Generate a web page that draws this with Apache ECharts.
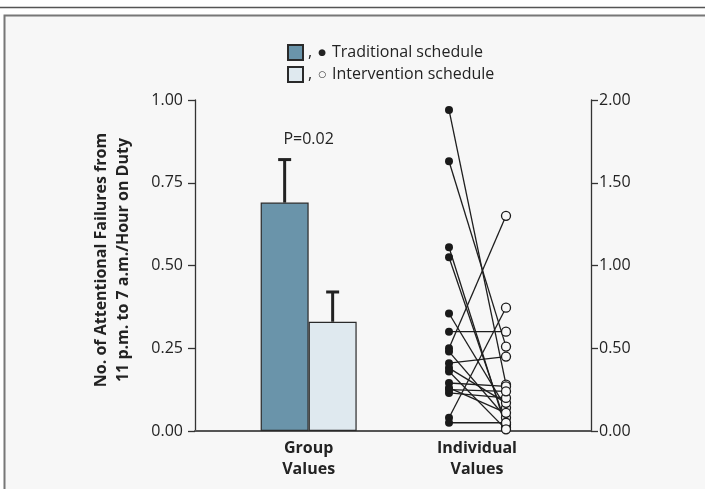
<!DOCTYPE html>
<html><head><meta charset="utf-8">
<script src="https://cdn.jsdelivr.net/npm/echarts@6/dist/echarts.min.js"></script>
<style>html,body{margin:0;padding:0;background:#fff}#c{width:705px;height:489px}</style>
</head><body><div id="c"></div>
<script>
// ---- data ----
const groupLabels = ['Group\nValues', 'Individual\nValues'];
const seriesNames = ['Traditional schedule', 'Intervention schedule'];
const groupMeans = [0.69, 0.33];
const groupUpper = [0.82, 0.42];
const pText = 'P=0.02';
const leftTicks = [0, 0.25, 0.5, 0.75, 1.0];
const rightTicks = [0, 0.5, 1.0, 1.5, 2.0];
const indCats = ['Traditional', 'Intervention'];
const traditional  = [1.94, 1.63, 1.11, 1.05, 0.71, 0.60, 0.50, 0.48, 0.41, 0.38, 0.29, 0.26, 0.23, 0.08, 0.05, 0.36, 0.25];
const intervention = [0.28, 0.51, 0.02, 0.04, 0.14, 0.60, 1.30, 0.08, 0.45, 0.17, 0.27, 0.11, 0.20, 0.745, 0.05, 0.01, 0.24];

// ---- layout / style ----
const GROUP_POS = 28.7, IND_POS = 71.2, BAR_W = 48;
const FONT = '"Open Sans", "DejaVu Sans", sans-serif';
const TXT = '#232323';

const chart = echarts.init(document.getElementById('c'), null, {renderer: 'canvas'});

const lineSeries = traditional.map((t, i) => ({
  type: 'line', xAxisIndex: 1, yAxisIndex: 2,
  data: [[indCats[0], t], [indCats[1], intervention[i]]],
  showSymbol: false, symbol: 'none',
  lineStyle: {color: '#1e1e1e', width: 1.3},
  silent: true, z: 3
}));

const option = {
  animation: false,
  backgroundColor: 'transparent',
  textStyle: {fontFamily: FONT},
  graphic: [
    {type: 'rect', z: -10, shape: {x: 4.5, y: 15.5, width: 800, height: 600},
     style: {fill: '#f7f7f7', stroke: '#777', lineWidth: 2}},
    {type: 'line', z: -10, shape: {x1: 0, y1: 7.5, x2: 705, y2: 7.5},
     style: {stroke: '#555', lineWidth: 1.6}}
  ],
  legend: {
    data: seriesNames, orient: 'vertical', left: 287, top: 44, padding: 0,
    itemWidth: 15, itemHeight: 15, itemGap: 5, icon: 'rect', selectedMode: false,
    formatter: name => '{p|,}{d|' + (name === seriesNames[0] ? '●' : '○') + '}{t|' + name + '}',
    textStyle: {
      fontFamily: FONT, fontSize: 16, color: TXT, lineHeight: 17,
      rich: {
        p: {fontFamily: FONT, fontSize: 16, color: TXT, lineHeight: 17},
        d: {fontFamily: '"DejaVu Sans"', fontSize: 9, color: TXT, padding: [0, 6, 0, 6], lineHeight: 17},
        t: {fontFamily: FONT, fontSize: 16, color: TXT, lineHeight: 17}
      }
    }
  },
  grid: [
    {left: 195, right: 114, top: 100, bottom: 58},
    {left: 449, right: 199, top: 100, bottom: 58}
  ],
  xAxis: [
    {gridIndex: 0, type: 'value', min: 0, max: 100,
     axisLine: {show: true, lineStyle: {color: '#555', width: 2}},
     axisTick: {show: false}, splitLine: {show: false},
     axisLabel: {show: true, customValues: [GROUP_POS, IND_POS],
       formatter: v => (v < 50 ? groupLabels[0] : groupLabels[1]),
       fontFamily: FONT, fontWeight: 'bold', fontSize: 16, lineHeight: 21, color: TXT, margin: 7}},
    {gridIndex: 1, type: 'category', data: indCats, boundaryGap: false, show: false}
  ],
  yAxis: [
    {gridIndex: 0, type: 'value', position: 'left', min: 0, max: 1, interval: 0.25,
     axisLine: {show: true, lineStyle: {color: '#333', width: 1.3}},
     axisTick: {show: true, length: 7, lineStyle: {color: '#333', width: 1.3}},
     splitLine: {show: false},
     axisLabel: {formatter: v => v.toFixed(2), fontFamily: FONT, fontSize: 16, color: TXT, margin: 12},
     name: 'No. of Attentional Failures from\n11 p.m. to 7 a.m./Hour on Duty',
     nameLocation: 'middle', nameRotate: 90, nameGap: 61,
     nameTextStyle: {fontFamily: FONT, fontWeight: 'bold', fontSize: 16, lineHeight: 21.5, color: TXT, padding: [0, 0, 0, 11]}},
    {gridIndex: 0, type: 'value', position: 'right', min: 0, max: 2, interval: 0.5,
     axisLine: {show: true, lineStyle: {color: '#333', width: 1.3}},
     axisTick: {show: true, length: 7, lineStyle: {color: '#333', width: 1.3}},
     splitLine: {show: false},
     axisLabel: {formatter: v => v.toFixed(2), fontFamily: FONT, fontSize: 16, color: TXT, margin: 8}},
    {gridIndex: 1, type: 'value', min: 0, max: 2, show: false}
  ],
  series: [
    {type: 'bar', name: seriesNames[0], xAxisIndex: 0, yAxisIndex: 0,
     data: [[GROUP_POS, groupMeans[0]]], barWidth: BAR_W, barGap: '0%',
     itemStyle: {color: '#6a94aa', borderColor: '#2a2a2a', borderWidth: 1.2}, z: 2},
    {type: 'bar', name: seriesNames[1], xAxisIndex: 0, yAxisIndex: 0,
     data: [[GROUP_POS, groupMeans[1]]], barWidth: BAR_W, barGap: '0%',
     itemStyle: {color: '#dfe9ef', borderColor: '#2a2a2a', borderWidth: 1.2}, z: 2},
    {type: 'custom', xAxisIndex: 0, yAxisIndex: 0, z: 4,
     data: groupMeans.map((m, i) => [GROUP_POS, m, groupUpper[i], i]),
     renderItem: (params, api) => {
       const i = api.value(3);
       const base = api.coord([api.value(0), api.value(1)]);
       const top = api.coord([api.value(0), api.value(2)]);
       const x = base[0] + (i === 0 ? -1 : 1) * BAR_W / 2;
       const st = {stroke: '#222', lineWidth: 3};
       const children = [
         {type: 'line', shape: {x1: x, y1: base[1], x2: x, y2: top[1]}, style: st},
         {type: 'line', shape: {x1: x - 6.5, y1: top[1], x2: x + 6.5, y2: top[1]}, style: st}
       ];
       if (i === 0) {
         children.push({type: 'text', x: base[0], y: top[1] - 20,
           style: {text: pText, fontFamily: FONT, fontSize: 16, fill: TXT, align: 'center', verticalAlign: 'middle'}});
       }
       return {type: 'group', children};
     }},
    ...lineSeries,
    {type: 'scatter', xAxisIndex: 1, yAxisIndex: 2, z: 5, silent: true,
     data: traditional.map(v => [indCats[0], v]),
     symbol: 'circle', symbolSize: 8, itemStyle: {color: '#1a1a1a', opacity: 1}},
    {type: 'scatter', xAxisIndex: 1, yAxisIndex: 2, z: 5, silent: true,
     data: intervention.map(v => [indCats[1], v]),
     symbol: 'circle', symbolSize: 9, itemStyle: {color: '#f7f7f7', borderColor: '#1a1a1a', borderWidth: 1.3, opacity: 1}}
  ]
};
chart.setOption(option);
</script>
</body></html>
